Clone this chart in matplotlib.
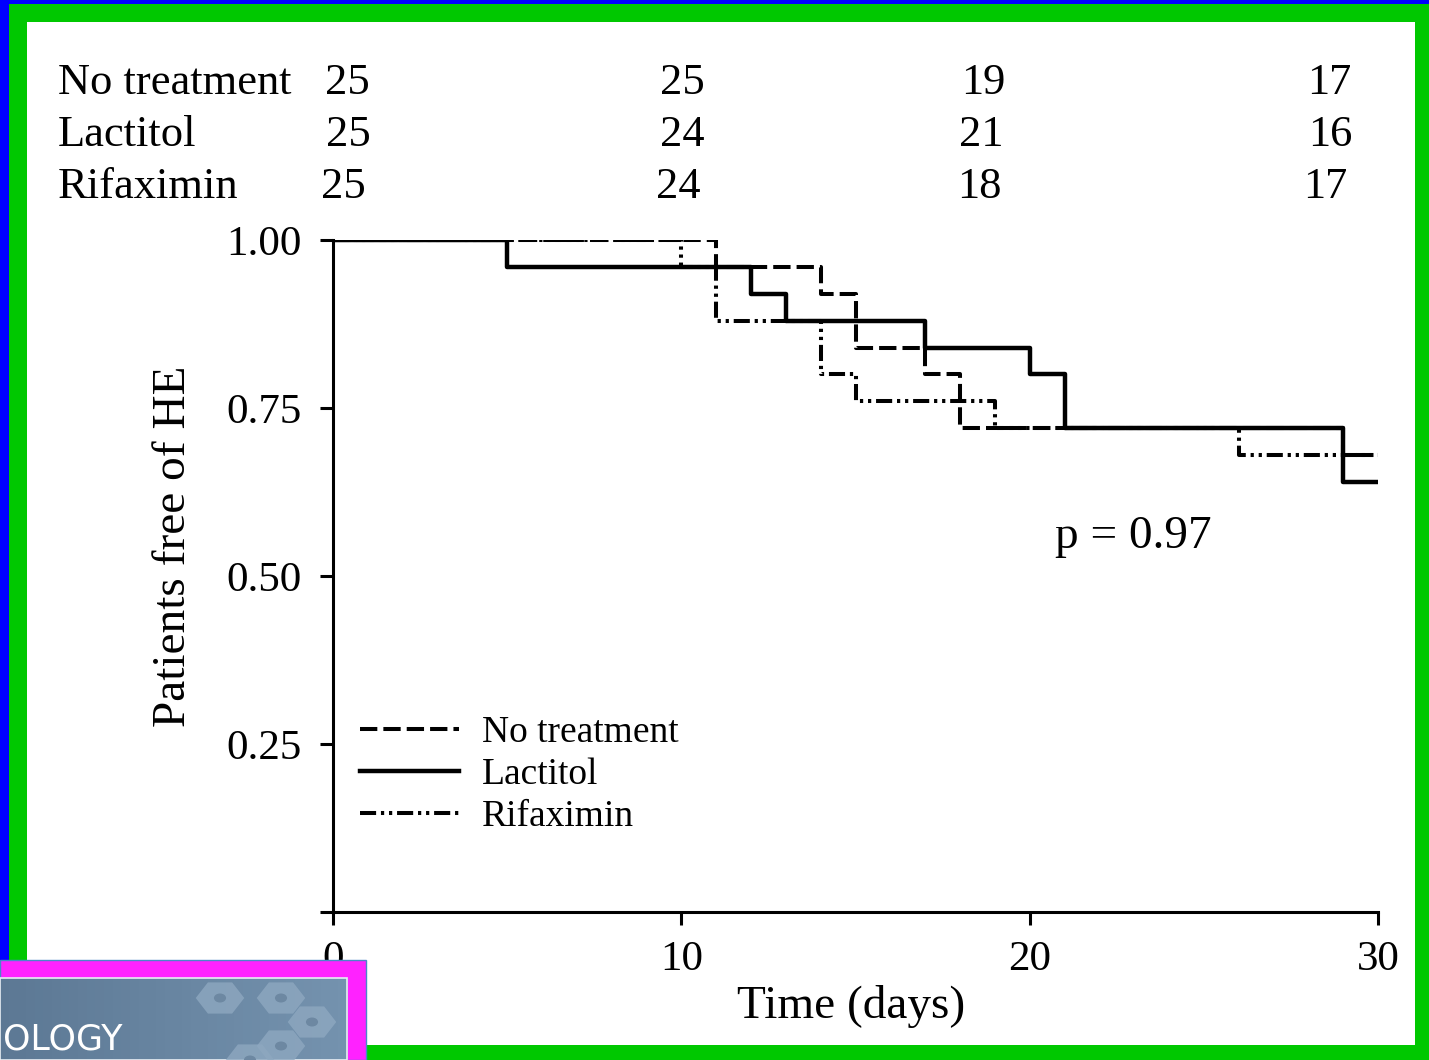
import numpy as np
import matplotlib
matplotlib.use('Agg')
import matplotlib.pyplot as plt
from matplotlib.patches import Rectangle, RegularPolygon, Circle

W, H = 1429, 1060

# ---------- data (Kaplan-Meier steps) ----------
t_none = [0, 11, 14, 15, 17, 18, 29, 30]
s_none = [1.00, 0.96, 0.92, 0.84, 0.80, 0.72, 0.68, 0.68]

t_lact = [0, 5, 12, 13, 17, 20, 21, 29, 30]
s_lact = [1.00, 0.96, 0.92, 0.88, 0.84, 0.80, 0.72, 0.64, 0.64]

t_rifa = [0, 10, 11, 14, 15, 19, 26, 30]
s_rifa = [1.00, 0.96, 0.88, 0.80, 0.76, 0.72, 0.68, 0.68]

groups = ['No treatment', 'Lactitol', 'Rifaximin']
at_risk_none = [25, 25, 19, 17]
at_risk_lact = [25, 24, 21, 16]
at_risk_rifa = [25, 24, 18, 17]

xticks = [0, 10, 20, 30]
yticks = [0, 0.25, 0.50, 0.75, 1.00]
ytick_labels = ['', '0.25', '0.50', '0.75', '1.00']


def fx(x):
    return x / W


def fy(y):
    return 1 - y / H


plt.rcParams['font.family'] = ['Liberation Serif', 'DejaVu Serif']

fig = plt.figure(figsize=(W / 100, H / 100), dpi=100)
fig.patch.set_facecolor('#00c800')

# ---------- frame ----------
fig.patches.append(Rectangle((0, 0), fx(9), 1, transform=fig.transFigure,
                             facecolor='#0000ff', edgecolor='none', zorder=-10))
fig.patches.append(Rectangle((0, fy(4)), 1, 4 / H, transform=fig.transFigure,
                             facecolor='#0000ff', edgecolor='none', zorder=-10))
fig.patches.append(Rectangle((fx(27), fy(1045)), fx(1415 - 27), (1045 - 22) / H,
                             transform=fig.transFigure, facecolor='white',
                             edgecolor='none', zorder=-9))

# ---------- axes ----------
ax = fig.add_axes([fx(333), fy(912), fx(1378 - 333), (912 - 240) / H])
ax.set_facecolor('none')

ax.step(t_none, s_none, where='post', color='black', lw=2.9,
        linestyle=(0, (4.3, 1.5)), label='No treatment')
ax.step(t_lact, s_lact, where='post', color='black', lw=3.2,
        linestyle='-', label='Lactitol')
ax.step(t_rifa, s_rifa, where='post', color='black', lw=2.9,
        linestyle=(0, (4, 1.2, 0.8, 1.2, 0.8, 1.2)), label='Rifaximin')

ax.set_xlim(0, 30)
ax.set_ylim(0, 1)
ax.set_xticks(xticks)
ax.set_yticks(yticks)
ax.set_yticklabels(ytick_labels)
for s in ['top', 'right']:
    ax.spines[s].set_visible(False)
for s in ['left', 'bottom']:
    ax.spines[s].set_linewidth(2.2)
ax.tick_params(axis='both', direction='out', length=9.5, width=2.2,
               labelsize=31)
ax.tick_params(axis='y', pad=13)
ax.tick_params(axis='x', pad=11)

leg = ax.legend(loc='upper left', bbox_to_anchor=(fx(360), fy(716)),
                bbox_transform=fig.transFigure, frameon=False, fontsize=27,
                handlelength=2.65, handletextpad=0.6, labelspacing=0.2,
                borderpad=0, borderaxespad=0)

fig.text(fx(1055), fy(548), 'p = 0.97', fontsize=34, va='baseline')
fig.text(fx(174), fy(546), 'Patients free of HE', fontsize=34,
         rotation=90, ha='center', va='center')
fig.text(fx(851), fy(1006), 'Time (days)', fontsize=34,
         ha='center', va='center')

# ---------- number at risk ----------
col_x = [[347, 682, 983, 1329], [348, 682, 981, 1330], [343, 678, 979, 1325]]
row_y = [94, 146, 198]
risk = [at_risk_none, at_risk_lact, at_risk_rifa]
for r, name in enumerate(groups):
    fig.text(fx(58), fy(row_y[r]), name, fontsize=32, va='baseline')
    for c, n in enumerate(risk[r]):
        fig.text(fx(col_x[r][c]), fy(row_y[r]), str(n), fontsize=32,
                 ha='center', va='baseline')

# ---------- overlay box bottom left ----------
fig.patches.append(Rectangle((0, 0), fx(366), (1060 - 960) / H,
                             transform=fig.transFigure, facecolor='#ff22ff',
                             edgecolor='#4a86c8', lw=1, zorder=10))
steps = 40
for i in range(steps):
    c0 = np.array([0x5c, 0x78, 0x94]) / 255
    c1 = np.array([0x74, 0x92, 0xae]) / 255
    c = c0 + (c1 - c0) * i / (steps - 1)
    fig.patches.append(Rectangle((fx(347 * i / steps), 0), fx(347 / steps) + 0.0005,
                                 (1060 - 978) / H, transform=fig.transFigure,
                                 facecolor=c, edgecolor='none', zorder=11))
fig.patches.append(Rectangle((0, 0), fx(347), (1060 - 978) / H,
                             transform=fig.transFigure, facecolor='none',
                             edgecolor='#e8eef4', lw=1.2, zorder=12))
hexes = [(220, 998, 18), (281, 998, 18), (312, 1022, 18), (281, 1046, 18), (250, 1060, 18)]
for hx, hy, r in hexes:
    fig.patches.append(RegularPolygon((fx(hx), fy(hy)), 6, radius=r / H,
                                      orientation=np.pi / 6,
                                      transform=fig.transFigure,
                                      facecolor='#8ea8c0', edgecolor='none',
                                      alpha=0.8, zorder=12))
    fig.patches.append(Circle((fx(hx), fy(hy)), 4.5 / H, transform=fig.transFigure,
                              facecolor='#6d88a2', edgecolor='none', zorder=13))
fig.text(fx(3), fy(1057), 'OLOGY', fontsize=25, color='white',
         family='DejaVu Sans', va='bottom', zorder=14)

fig.savefig('out.png', dpi=100)
